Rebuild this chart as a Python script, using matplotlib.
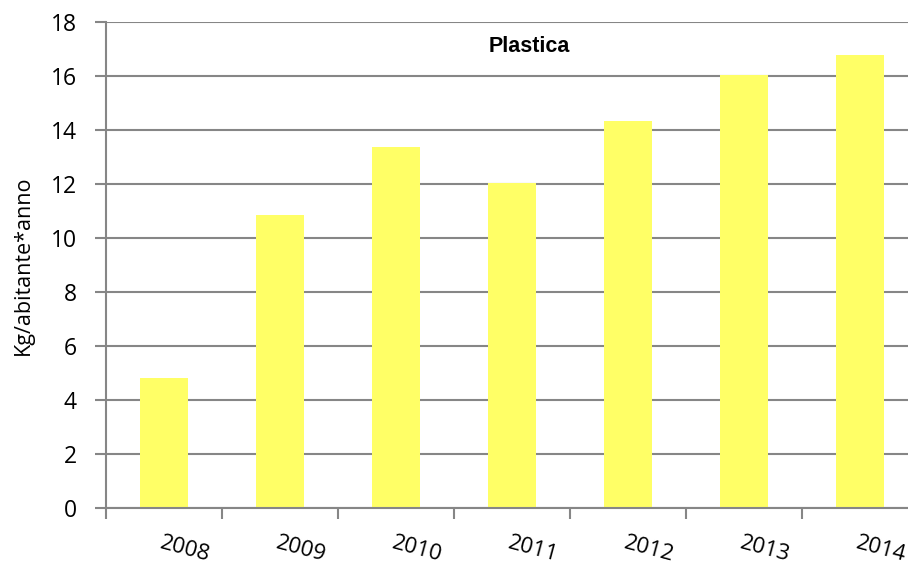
import matplotlib
matplotlib.use("Agg")
import matplotlib.pyplot as plt
import numpy as np

years = ["2008", "2009", "2010", "2011", "2012", "2013", "2014"]
values = [4.82, 10.85, 13.37, 12.03, 14.33, 16.04, 16.78]
yticks = [0, 2, 4, 6, 8, 10, 12, 14, 16, 18]

grey = "#868686"

fig = plt.figure(figsize=(9.08, 5.67), dpi=100)
ax = fig.add_axes([106 / 908, 1 - 508 / 567, 812 / 908, (508 - 22) / 567])

x = np.arange(len(years))
ax.bar(x, values, width=0.41, color="#FFFF66", zorder=2)

ax.set_xlim(-0.5, len(years) - 0.5)
ax.set_ylim(0, 18)
ax.set_yticks(yticks)
ax.set_yticklabels([str(v) for v in yticks], fontname="Open Sans", fontsize=16.5)
ax.grid(axis="y", color=grey, linewidth=1.5, zorder=1)

# ticks between categories on x, labels placed by hand
ax.set_xticks(np.arange(-0.5, len(years), 1.0))
ax.set_xticklabels([])
ax.tick_params(axis="x", length=8, width=1.5, color=grey, direction="out")
ax.tick_params(axis="y", length=8, width=1.5, color=grey, direction="out", pad=13)
for i, yr in enumerate(years):
    ax.text(i - 0.01, -0.9, yr, rotation=-15, rotation_mode="anchor",
            ha="left", va="top", fontname="Open Sans", fontsize=16,
            transform=ax.transData, clip_on=False)

for s in ["top", "right"]:
    ax.spines[s].set_visible(False)
ax.spines["left"].set_color(grey)
ax.spines["left"].set_linewidth(1.5)
ax.spines["bottom"].set_color(grey)
ax.spines["bottom"].set_linewidth(1.5)

ax.set_ylabel("Kg/abitante*anno", fontname="Open Sans", fontsize=15.5, labelpad=12)
ax.text((529 - 106) / 812, 0.95, "Plastica", transform=ax.transAxes,
        ha="center", va="center", fontname="Liberation Sans", fontsize=15.5,
        fontweight="bold")

fig.savefig("out.png", dpi=100)
